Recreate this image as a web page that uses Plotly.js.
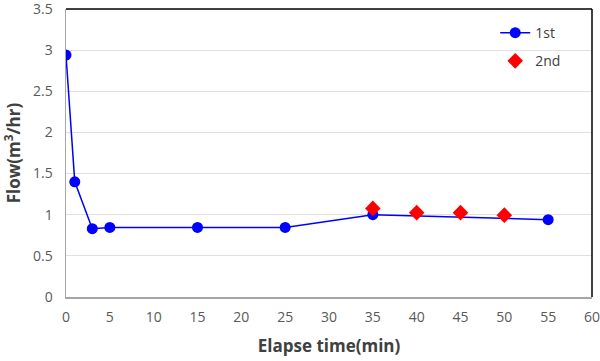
<!DOCTYPE html>
<html>
<head>
<meta charset="utf-8">
<script src="https://cdn.plot.ly/plotly-3.0.1.min.js"></script>
<style>html,body{margin:0;padding:0;background:#fff;}#chart{width:600px;height:361px;}</style>
</head>
<body>
<div id="chart"></div>
<script>
var firstX = [0, 1, 3, 5, 15, 25, 35, 55];
var firstY = [2.94, 1.40, 0.83, 0.845, 0.845, 0.845, 1.0, 0.94];
var secondX = [35, 40, 45, 50];
var secondY = [1.077, 1.025, 1.025, 0.995];
var seriesNames = ['1st', '2nd'];

var font = "'Open Sans', 'Noto Sans', sans-serif";

var traces = [
  {
    x: firstX, y: firstY, name: seriesNames[0], type: 'scatter', mode: 'lines+markers',
    line: {color: '#0000ff', width: 1.5},
    marker: {color: '#0000ff', size: 11, symbol: 'circle'},
    legendgroup: 'a'
  },
  {
    x: secondX, y: secondY, name: seriesNames[1], type: 'scatter', mode: 'markers',
    marker: {color: '#ff0000', size: 12, symbol: 'diamond'},
    legendgroup: 'b'
  }
];

var layout = {
  width: 600, height: 361,
  margin: {l: 66, r: 8, t: 9, b: 64},
  paper_bgcolor: '#ffffff', plot_bgcolor: '#ffffff',
  font: {family: font, size: 14, color: '#595959'},
  xaxis: {
    range: [0, 60], dtick: 5, tick0: 0,
    showgrid: false, zeroline: false,
    showline: true, linecolor: '#a6a6a6', linewidth: 1.5,
    ticks: '', ticklen: 0, ticklabelstandoff: 7, ticklabeloverflow: 'allow',
    tickfont: {family: font, size: 14, color: '#595959'},
    title: {text: 'Elapse time(min)', font: {family: font, size: 17, color: '#404040', weight: 'bold'}, standoff: 15}
  },
  yaxis: {
    range: [0, 3.5], dtick: 0.5, tick0: 0,
    showgrid: true, gridcolor: '#e0e0e0', gridwidth: 1,
    zeroline: false,
    showline: true, linecolor: '#a6a6a6', linewidth: 1.5,
    ticks: '', ticklen: 0, ticklabelstandoff: 9, ticklabeloverflow: 'allow',
    tickfont: {family: font, size: 14, color: '#595959'},
    title: {text: 'Flow(m<sup>3</sup>/hr)', font: {family: font, size: 17, color: '#404040', weight: 'bold'}, standoff: 8}
  },
  showlegend: true,
  legend: {
    x: 0.816, y: 0.972, xanchor: 'left', yanchor: 'top',
    bgcolor: 'rgba(0,0,0,0)', borderwidth: 0,
    font: {family: font, size: 14, color: '#404040'},
    traceorder: 'grouped', tracegroupgap: 7
  },
  shapes: [
    {type: 'line', xref: 'paper', yref: 'paper', x0: 0, x1: 1, y0: 1, y1: 1, line: {color: '#000000', width: 1.5}},
    {type: 'line', xref: 'paper', yref: 'paper', x0: 1, x1: 1, y0: 0, y1: 1, line: {color: '#000000', width: 1.5}}
  ]
};

Plotly.newPlot('chart', traces, layout, {displayModeBar: false, staticPlot: true});
</script>
</body>
</html>
